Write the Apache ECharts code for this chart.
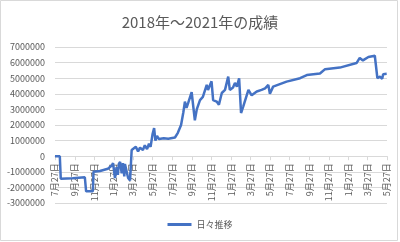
<!DOCTYPE html>
<html>
<head>
<meta charset="utf-8">
<script src="https://cdn.jsdelivr.net/npm/echarts@6/dist/echarts.min.js"></script>
<style>
html,body{margin:0;padding:0;background:#fff;}
#c{width:400px;height:242px;}
</style>
</head>
<body>
<div id="c"></div>
<script>
const chartTitle = "2018年～2021年の成績";
const seriesName = "日々推移";
const axisStart = "2018-07-27";
const axisEnd = "2021-05-27";
const yTicks = [-3000000, 7000000, 1000000];

const pointDates = [
"2018-07-27","2018-08-11","2018-08-14","2018-09-20","2018-10-28","2018-11-01","2018-11-22","2018-11-24",
"2018-12-14","2019-01-08","2019-01-14","2019-01-20","2019-01-24","2019-01-30","2019-02-04","2019-02-08",
"2019-02-11","2019-02-15","2019-02-20","2019-02-24","2019-02-28","2019-03-02","2019-03-05","2019-03-12",
"2019-03-18","2019-03-23","2019-03-27","2019-04-05","2019-04-12","2019-04-18",
"2019-04-27","2019-05-03","2019-05-10","2019-05-16","2019-05-21","2019-05-27","2019-06-01","2019-06-05",
"2019-06-10","2019-06-16","2019-07-01","2019-07-15","2019-08-05","2019-08-14","2019-08-24","2019-08-31","2019-09-05","2019-09-10","2019-09-15",
"2019-09-26","2019-09-30","2019-10-06","2019-10-12","2019-10-22","2019-10-31","2019-11-05","2019-11-12","2019-11-16",
"2019-11-27","2019-12-02","2019-12-13","2019-12-20","2019-12-29","2020-01-08","2020-01-18","2020-01-23",
"2020-02-02","2020-02-08","2020-02-14","2020-02-21","2020-02-24","2020-02-27","2020-03-05","2020-03-21",
"2020-03-31","2020-04-16","2020-05-01","2020-05-12","2020-05-22","2020-05-27","2020-06-06","2020-07-18",
"2020-08-29","2020-09-19","2020-10-30","2020-11-15","2020-12-31","2021-02-21","2021-03-03","2021-03-13",
"2021-03-30","2021-04-19","2021-04-25","2021-04-27","2021-05-05","2021-05-12","2021-05-15","2021-05-26"
];
const pointValues = [
0,0,-1450000,-1420000,-1350000,-2250000,-2250000,-1000000,
-950000,-800000,-700000,-600000,-450000,-1400000,-700000,-1200000,
-500000,-370000,-1100000,-450000,-1300000,-500000,-450000,-1400000,
-1550000,400000,400000,600000,300000,550000,
400000,700000,450000,800000,600000,1400000,1800000,1000000,
1300000,1100000,1150000,1120000,1200000,1500000,2000000,2800000,3500000,3100000,3400000,
4100000,4050000,2300000,3000000,3600000,3800000,3700000,4570000,4250000,
4800000,3600000,3500000,3300000,4050000,4250000,5100000,4250000,
4400000,4700000,4460000,5000000,5000000,2770000,3200000,4250000,
3900000,4150000,4250000,4350000,4570000,4000000,4460000,4780000,
5000000,5200000,5300000,5580000,5680000,5970000,6300000,6140000,
6360000,6440000,6440000,5000000,5100000,4960000,5260000,5280000
];

// daily categories for the date axis
const categories = [];
(function(){
  const s = new Date(axisStart + "T00:00:00Z").getTime();
  const e = new Date(axisEnd + "T00:00:00Z").getTime();
  for (let t = s; t <= e; t += 86400000) categories.push(new Date(t).toISOString().slice(0,10));
})();
function isTickDay(v){
  const m = parseInt(v.slice(5,7),10), d = parseInt(v.slice(8,10),10);
  return d === 27 && (m % 2 === 1);
}
function fmt(v){
  return parseInt(v.slice(5,7),10) + "月" + parseInt(v.slice(8,10),10) + "日";
}

const H = 242, gridTop = 47, gridBottom = 39;
const plotH = H - gridTop - gridBottom;
// shift the category axis up to the value-axis zero line
const zeroOffset = -plotH * (0 - yTicks[0]) / (yTicks[1] - yTicks[0]);

const chart = echarts.init(document.getElementById('c'), null, {renderer:'canvas'});
const FONT = '"Noto Sans CJK JP","Noto Sans",sans-serif';
chart.setOption({
  animation:false,
  backgroundColor:'#fff',
  textStyle:{fontFamily:FONT},
  title:{text:chartTitle,left:'center',top:10,
    textStyle:{fontSize:15,fontWeight:'normal',color:'#595959',fontFamily:FONT}},
  legend:{bottom:8,left:'center',icon:'rect',itemWidth:24,itemHeight:3,itemGap:5,
    textStyle:{fontSize:9,color:'#595959',fontFamily:FONT},data:[seriesName]},
  grid:{left:55,right:13,top:gridTop,bottom:gridBottom,containLabel:false},
  xAxis:{type:'category',data:categories,boundaryGap:false,position:'bottom',offset:zeroOffset,
    axisLine:{onZero:false,lineStyle:{color:'#d9d9d9',width:1}},
    axisTick:{show:true,interval:(i,v)=>isTickDay(v),length:4,lineStyle:{color:'#d9d9d9'}},
    axisLabel:{interval:(i,v)=>isTickDay(v),rotate:90,margin:7,fontSize:9,color:'#595959',
      fontFamily:FONT,formatter:fmt},
    splitLine:{show:false}},
  yAxis:{type:'value',min:yTicks[0],max:yTicks[1],interval:yTicks[2],
    axisLine:{show:false},axisTick:{show:false},
    axisLabel:{fontSize:9,color:'#595959',margin:10,fontFamily:FONT,formatter:v=>String(v)},
    splitLine:{lineStyle:{color:'#d9d9d9',width:1}}},
  graphic:[{type:'rect',shape:{x:0.5,y:0.5,width:397,height:240},
    style:{fill:null,stroke:'#d9d9d9',lineWidth:1},silent:true,z:-1}],
  series:[{name:seriesName,type:'line',showSymbol:false,symbol:'none',
    data:pointDates.map((d,i)=>[d,pointValues[i]]),
    lineStyle:{color:'#4472C4',width:2.5},itemStyle:{color:'#4472C4'}}]
});
</script>
</body>
</html>
